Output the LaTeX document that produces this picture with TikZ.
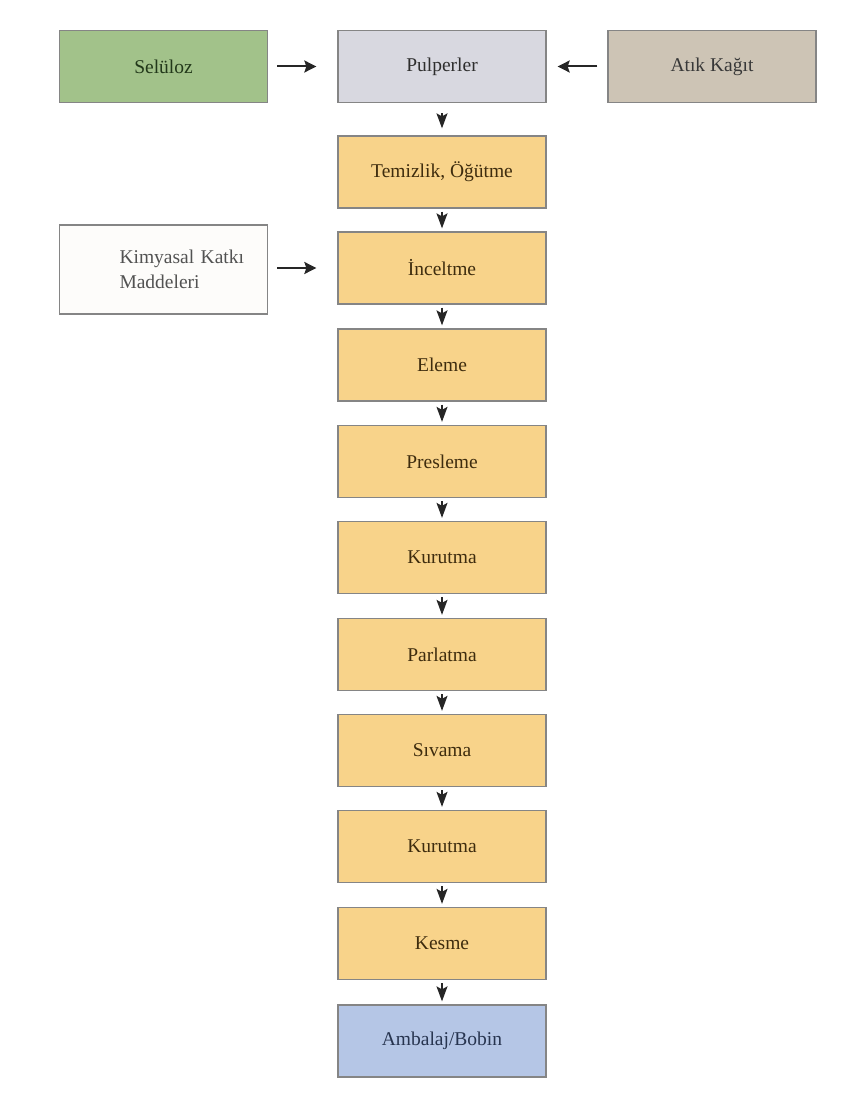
\documentclass[tikz,border=0pt]{standalone}
\usepackage{fontspec}
\setmainfont{Liberation Serif}
\usetikzlibrary{arrows.meta,calc}

\definecolor{edgegray}{HTML}{858585}
\definecolor{greenfill}{HTML}{A2C28A}
\definecolor{greentext}{HTML}{22381A}
\definecolor{pulpfill}{HTML}{D8D8E0}
\definecolor{wastefill}{HTML}{CDC4B5}
\definecolor{procfill}{HTML}{F8D38A}
\definecolor{proctext}{HTML}{3E2C0E}
\definecolor{packfill}{HTML}{B5C6E6}
\definecolor{packtext}{HTML}{27344F}
\definecolor{chemfill}{HTML}{FDFCFA}
\definecolor{arrowgray}{HTML}{262626}

\tikzset{
  box/.style={draw=edgegray, line width=1.3pt, minimum width=208pt, minimum height=72pt,
              inner sep=0pt, font=\fontsize{19.5}{25}\selectfont},
  proc/.style={box, fill=procfill, text=proctext},
  sidearrow/.style={draw=arrowgray, line width=2pt, -{Stealth[length=12pt,width=12pt,inset=2pt]}},
  downarrow/.style={draw=arrowgray, line width=1.4pt, -{Stealth[length=15pt,width=11pt,inset=3pt]}}
}

\begin{document}
\begin{tikzpicture}[x=1pt, y=-1pt]
  \useasboundingbox (0,0) rectangle (841,1102);

  % top row: raw material sources and pulper
  \node[box, fill=greenfill, text=greentext] (sel) at (163.5,66.5) {Selüloz};
  \node[box, fill=pulpfill, text=black!82] (pul) at (442,66.5) {Pulperler};
  \node[box, fill=wastefill, text=black!78] (atik) at (712,66.5) {Atık Kağıt};

  % chemical additives (text set flush left, indented inside the box)
  \node[box, fill=chemfill, text=black!68, minimum height=89pt, align=left, text width=208pt] (kim) at (163.5,269.5)
    {\hspace*{60pt}Kimyasal Katkı\\\hspace*{60pt}Maddeleri};

  % main process chain
  \node[proc] (tem) at (442,172) {Temizlik, Öğütme};
  \node[proc] (inc) at (442,268) {İnceltme};
  \node[proc] (ele) at (442,365) {Eleme};
  \node[proc] (pre) at (442,461.5) {Presleme};
  \node[proc] (kur1) at (442,557.5) {Kurutma};
  \node[proc] (par) at (442,654.5) {Parlatma};
  \node[proc] (siv) at (442,750.5) {Sıvama};
  \node[proc] (kur2) at (442,846.5) {Kurutma};
  \node[proc] (kes) at (442,943.5) {Kesme};
  \node[box, fill=packfill, text=packtext] (amb) at (442,1041) {Ambalaj/Bobin};

  % side inputs
  \draw[sidearrow] ($(sel.east)+(9,0)$) -- ($(pul.west)+(-21,0)$);
  \draw[sidearrow] ($(atik.west)+(-10,0)$) -- ($(pul.east)+(11,0)$);
  \draw[sidearrow] ($(kim.east)+(9,-1.5)$) -- ($(inc.west)+(-21,0)$);

  % flow down the chain
  \draw[downarrow] ($(pul.south)+(0,10)$) -- ($(tem.north)+(0,-7)$);
  \foreach \a/\b in {tem/inc, inc/ele, ele/pre, pre/kur1, kur1/par, par/siv, siv/kur2, kur2/kes, kes/amb}
    \draw[downarrow] ($(\a.south)+(0,3)$) -- ($(\b.north)+(0,-3)$);
\end{tikzpicture}
\end{document}
